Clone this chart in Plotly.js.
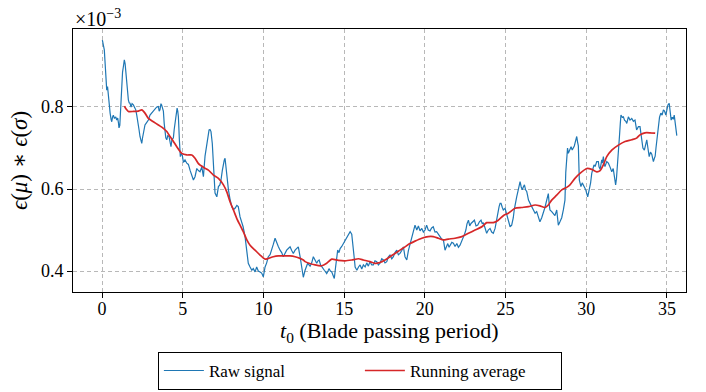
<!DOCTYPE html>
<html>
<head>
<meta charset="utf-8">
<script src="https://cdn.plot.ly/plotly-3.0.1.min.js"></script>
<style>html,body{margin:0;padding:0;background:#fff;}#chart{width:706px;height:392px;}</style>
</head>
<body>
<div id="chart"></div>
<script>
// Raw signal (values in units of 1e-3)
const tRaw = [0.02,0.08,0.14,0.20,0.25,0.29,0.34,0.39,0.45,0.50,0.56,0.60,0.65,0.70,0.77,0.85,0.91,0.97,1.02,1.05,1.10,1.15,1.22,1.27,1.32,1.38,1.43,1.47,1.51,1.55,1.59,1.63,1.68,1.73,1.80,1.86,1.94,2.01,2.09,2.15,2.21,2.29,2.35,2.42,2.46,2.51,2.56,2.61,2.66,2.76,2.87,2.97,3.08,3.18,3.28,3.39,3.49,3.54,3.59,3.65,3.69,3.74,3.80,3.85,3.90,3.95,4.01,4.07,4.15,4.21,4.27,4.33,4.42,4.47,4.52,4.59,4.65,4.69,4.73,4.79,4.85,4.91,4.97,5.04,5.14,5.25,5.35,5.45,5.56,5.66,5.76,5.87,5.97,6.07,6.18,6.28,6.38,6.48,6.57,6.63,6.69,6.75,6.83,6.90,6.95,7.00,7.11,7.21,7.30,7.37,7.45,7.52,7.57,7.62,7.67,7.73,7.78,7.83,7.93,8.04,8.14,8.24,8.35,8.44,8.55,8.66,8.74,8.86,8.97,9.06,9.17,9.28,9.37,9.48,9.58,9.68,9.79,9.89,9.99,10.10,10.20,10.30,10.41,10.51,10.61,10.72,10.82,10.92,11.03,11.13,11.23,11.34,11.44,11.54,11.65,11.75,11.85,11.96,12.06,12.16,12.27,12.37,12.47,12.58,12.67,12.74,12.89,12.99,13.09,13.20,13.30,13.38,13.45,13.54,13.61,13.69,13.77,13.85,13.92,14.00,14.06,14.15,14.23,14.31,14.39,14.47,14.54,14.60,14.68,14.75,14.85,14.95,15.06,15.16,15.26,15.37,15.47,15.52,15.57,15.63,15.68,15.79,15.89,15.99,16.09,16.19,16.30,16.40,16.50,16.60,16.71,16.81,16.91,17.02,17.12,17.22,17.33,17.43,17.53,17.64,17.74,17.84,17.95,18.05,18.15,18.26,18.36,18.46,18.57,18.67,18.77,18.88,18.98,19.08,19.14,19.22,19.29,19.39,19.50,19.60,19.70,19.81,19.91,20.01,20.11,20.21,20.32,20.42,20.52,20.63,20.73,20.84,20.94,21.04,21.15,21.25,21.35,21.42,21.50,21.56,21.67,21.77,21.87,21.98,22.08,22.18,22.29,22.39,22.46,22.54,22.61,22.70,22.78,22.86,22.97,23.07,23.17,23.28,23.38,23.48,23.56,23.62,23.73,23.83,23.93,24.04,24.14,24.24,24.35,24.45,24.53,24.60,24.66,24.72,24.80,24.86,24.97,25.06,25.13,25.21,25.28,25.38,25.48,25.54,25.59,25.69,25.77,25.84,25.90,25.97,26.04,26.10,26.17,26.24,26.31,26.36,26.42,26.52,26.62,26.72,26.83,26.93,27.03,27.13,27.24,27.34,27.44,27.55,27.60,27.65,27.70,27.75,27.86,27.96,28.06,28.17,28.22,28.27,28.37,28.48,28.58,28.63,28.68,28.73,28.79,28.84,28.89,28.98,29.06,29.13,29.20,29.26,29.30,29.37,29.41,29.46,29.51,29.57,29.63,29.67,29.75,29.82,29.89,29.97,30.03,30.09,30.14,30.19,30.27,30.34,30.41,30.48,30.55,30.65,30.75,30.79,30.86,30.96,31.00,31.06,31.12,31.16,31.27,31.37,31.47,31.58,31.67,31.75,31.82,31.87,31.92,31.99,32.06,32.11,32.15,32.23,32.30,32.37,32.45,32.51,32.56,32.61,32.71,32.82,32.92,33.02,33.12,33.23,33.33,33.39,33.43,33.51,33.60,33.67,33.75,33.82,33.90,33.98,34.06,34.11,34.16,34.22,34.27,34.32,34.37,34.42,34.47,34.54,34.62,34.70,34.78,34.85,34.93,34.99,35.06,35.14,35.20,35.26,35.33,35.39,35.45,35.50,35.55,35.61];
const rawSignal = [0.963,0.950,0.939,0.900,0.860,0.841,0.850,0.825,0.800,0.785,0.770,0.764,0.775,0.780,0.772,0.776,0.768,0.773,0.760,0.749,0.755,0.800,0.866,0.885,0.898,0.915,0.905,0.882,0.860,0.841,0.830,0.817,0.810,0.809,0.800,0.808,0.805,0.798,0.793,0.780,0.768,0.745,0.728,0.720,0.711,0.725,0.737,0.745,0.756,0.762,0.768,0.780,0.785,0.790,0.793,0.800,0.801,0.790,0.793,0.808,0.805,0.800,0.790,0.760,0.736,0.725,0.720,0.730,0.728,0.715,0.703,0.720,0.725,0.745,0.760,0.785,0.797,0.790,0.776,0.720,0.679,0.685,0.683,0.665,0.671,0.663,0.660,0.646,0.635,0.622,0.630,0.650,0.645,0.642,0.654,0.630,0.680,0.711,0.735,0.744,0.745,0.740,0.711,0.654,0.610,0.590,0.581,0.606,0.610,0.622,0.645,0.663,0.670,0.675,0.655,0.638,0.615,0.598,0.575,0.557,0.550,0.553,0.560,0.557,0.532,0.520,0.508,0.484,0.451,0.419,0.410,0.402,0.406,0.398,0.410,0.400,0.398,0.395,0.386,0.410,0.420,0.435,0.440,0.451,0.465,0.480,0.467,0.460,0.451,0.445,0.435,0.445,0.451,0.455,0.459,0.450,0.443,0.451,0.455,0.459,0.435,0.410,0.385,0.402,0.410,0.419,0.412,0.420,0.435,0.425,0.419,0.425,0.427,0.415,0.410,0.405,0.402,0.398,0.394,0.400,0.406,0.400,0.398,0.390,0.382,0.410,0.430,0.451,0.445,0.455,0.460,0.467,0.475,0.484,0.490,0.496,0.490,0.475,0.459,0.430,0.410,0.402,0.410,0.415,0.405,0.415,0.410,0.420,0.412,0.423,0.415,0.415,0.425,0.423,0.415,0.419,0.430,0.427,0.420,0.423,0.435,0.439,0.430,0.435,0.445,0.451,0.440,0.443,0.450,0.459,0.435,0.427,0.450,0.465,0.476,0.490,0.500,0.512,0.500,0.510,0.498,0.504,0.495,0.500,0.512,0.500,0.498,0.505,0.508,0.495,0.496,0.488,0.484,0.478,0.476,0.451,0.460,0.467,0.458,0.463,0.470,0.468,0.460,0.467,0.458,0.463,0.472,0.480,0.490,0.500,0.515,0.524,0.510,0.516,0.520,0.524,0.510,0.512,0.520,0.524,0.515,0.518,0.505,0.492,0.500,0.504,0.495,0.492,0.504,0.530,0.550,0.557,0.565,0.565,0.555,0.549,0.553,0.540,0.532,0.520,0.508,0.512,0.530,0.550,0.565,0.581,0.595,0.606,0.618,0.605,0.598,0.605,0.610,0.598,0.594,0.585,0.573,0.565,0.557,0.550,0.541,0.545,0.532,0.520,0.530,0.541,0.555,0.573,0.580,0.589,0.565,0.549,0.545,0.541,0.535,0.549,0.530,0.512,0.520,0.530,0.549,0.560,0.573,0.640,0.695,0.700,0.687,0.695,0.703,0.695,0.700,0.705,0.711,0.720,0.728,0.715,0.705,0.622,0.615,0.606,0.615,0.610,0.605,0.598,0.589,0.581,0.590,0.598,0.615,0.638,0.650,0.659,0.655,0.667,0.667,0.654,0.648,0.671,0.663,0.679,0.660,0.655,0.667,0.663,0.654,0.642,0.650,0.630,0.610,0.625,0.660,0.680,0.730,0.760,0.780,0.775,0.776,0.768,0.765,0.760,0.772,0.776,0.768,0.772,0.765,0.768,0.744,0.752,0.752,0.735,0.711,0.700,0.695,0.705,0.720,0.700,0.679,0.690,0.685,0.675,0.667,0.675,0.680,0.700,0.720,0.740,0.760,0.775,0.785,0.780,0.793,0.790,0.780,0.795,0.805,0.809,0.790,0.768,0.775,0.770,0.780,0.760,0.740,0.730];

// Running average (values in units of 1e-3)
const tAvg = [1.38,1.49,1.63,1.94,2.25,2.46,2.66,2.87,3.18,3.49,3.80,4.01,4.21,4.42,4.63,4.94,5.25,5.56,5.76,5.97,6.28,6.59,6.90,7.21,7.52,7.73,7.93,8.14,8.35,8.55,8.75,8.97,9.17,9.48,9.79,10.10,10.30,10.61,10.92,11.23,11.65,11.96,12.27,12.47,12.58,13.20,13.61,13.92,14.23,14.64,15.06,15.47,15.89,16.19,16.60,16.91,17.22,17.53,17.84,18.15,18.46,18.77,19.08,19.39,19.81,20.21,20.52,20.84,21.15,21.46,21.87,22.29,22.70,23.11,23.53,23.83,24.24,24.55,24.86,25.17,25.59,26.00,26.42,26.83,27.13,27.44,27.65,27.86,28.17,28.48,28.79,28.99,29.30,29.61,30.03,30.34,30.65,30.86,31.06,31.27,31.58,31.99,32.40,32.82,33.12,33.33,33.64,33.95,34.27];
const runAvg = [0.802,0.795,0.789,0.789,0.790,0.793,0.785,0.772,0.764,0.756,0.748,0.740,0.728,0.716,0.703,0.687,0.683,0.683,0.675,0.662,0.653,0.646,0.634,0.626,0.610,0.593,0.569,0.549,0.528,0.512,0.496,0.476,0.463,0.451,0.439,0.429,0.431,0.435,0.437,0.437,0.437,0.435,0.431,0.427,0.423,0.415,0.413,0.419,0.429,0.426,0.425,0.427,0.430,0.427,0.423,0.419,0.421,0.427,0.435,0.443,0.451,0.459,0.467,0.473,0.480,0.484,0.484,0.480,0.476,0.478,0.480,0.484,0.492,0.500,0.508,0.518,0.518,0.524,0.535,0.541,0.553,0.555,0.557,0.561,0.559,0.555,0.561,0.573,0.585,0.598,0.604,0.610,0.626,0.638,0.650,0.648,0.642,0.645,0.659,0.679,0.695,0.707,0.716,0.720,0.724,0.732,0.737,0.737,0.736];

const xTicks = [0,5,10,15,20,25,30,35];
const yTicks = [0.4,0.6,0.8];

const serif = "'Liberation Serif', 'DejaVu Serif', serif";

const traces = [
  {x: tRaw, y: rawSignal, type: 'scatter', mode: 'lines', name: 'Raw signal',
   line: {color: '#1f77b4', width: 1.2}},
  {x: tAvg, y: runAvg, type: 'scatter', mode: 'lines', name: 'Running average',
   line: {color: '#d62728', width: 1.7, shape: 'spline', smoothing: 0.6}}
];

const axisCommon = {
  showline: true, mirror: true, linecolor: '#000', linewidth: 1,
  ticks: 'outside', ticklen: 5, tickwidth: 1, tickcolor: '#000',
  showgrid: true, gridcolor: '#b8b8b8', griddash: '4px,3px', gridwidth: 1,
  zeroline: false, tickfont: {family: serif, size: 18, color: '#000'}
};

const layout = {
  width: 706, height: 392,
  margin: {l: 73, r: 20, t: 29, b: 100, autoexpand: false},
  paper_bgcolor: '#fff', plot_bgcolor: '#fff',
  showlegend: true,
  xaxis: Object.assign({}, axisCommon, {
    range: [-1.8, 36.18], tickvals: xTicks, ticktext: xTicks.map(String),
    ticklabelstandoff: -5
  }),
  yaxis: Object.assign({}, axisCommon, {
    range: [0.349, 0.990], tickvals: yTicks, ticktext: yTicks.map(v => v.toFixed(1)),
    title: {text: '<i>ϵ</i>(<i>μ</i>) ∗ <i>ϵ</i>(<i>σ</i>)', font: {family: serif, size: 23, color: '#000'}, standoff: 6}
  }),
  legend: {
    orientation: 'h', x: 0.468, xanchor: 'center', y: -0.228, yanchor: 'top',
    bordercolor: '#000', borderwidth: 1, bgcolor: '#fff',
    font: {family: serif, size: 17, color: '#000'}, itemwidth: 40,
    entrywidth: 146, entrywidthmode: 'pixels', tracegroupgap: 0, valign: 'middle'
  },
  annotations: [{
    xref: 'paper', yref: 'paper', x: 0, y: 1, xanchor: 'left', yanchor: 'bottom',
    text: '×10<sup>−3</sup>', showarrow: false, font: {family: serif, size: 20, color: '#000'}, yshift: -3
  }, {
    xref: 'paper', yref: 'paper', x: 0.5155, y: -0.152, xanchor: 'center', yanchor: 'middle',
    text: '<i>t</i><sub>0</sub> (Blade passing period)', showarrow: false,
    font: {family: serif, size: 22, color: '#000'}
  }]
};

Plotly.newPlot('chart', traces, layout, {displayModeBar: false, staticPlot: true});
</script>
</body>
</html>
